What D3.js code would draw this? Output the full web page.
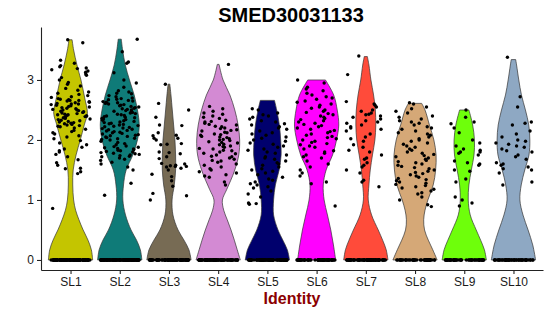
<!DOCTYPE html>
<html>
<head>
<meta charset="utf-8">
<script src="https://cdn.jsdelivr.net/npm/d3@7"></script>
<style>
  body { margin: 0; background: #fff; }
  svg { font-family: "Liberation Sans", Arial, sans-serif; }
</style>
</head>
<body>
<svg id="chart" width="550" height="316"></svg>
<script>
const categories = ["SL1", "SL2", "SL3", "SL4", "SL5", "SL6", "SL7", "SL8", "SL9", "SL10"];
const palette = ["#c4c500", "#0f7b78", "#776b54", "#d38ad3", "#00006d", "#ff00ff", "#ff4b3a", "#d5a877", "#6eff0b", "#8ea8c3"];
const yTicks = [0, 1, 2, 3];

// violin outline: [expression, relative width]
const violinProfiles = [
  [[0,1],[0.17,0.94],[0.33,0.79],[0.5,0.57],[0.67,0.38],[0.83,0.23],[1.0,0.14],[1.25,0.1],[1.5,0.12],[1.75,0.25],[2.0,0.44],[2.25,0.62],[2.45,0.76],[2.7,0.64],[3.0,0.47],[3.25,0.29],[3.5,0.14],[3.67,0.07]],
  [[0,1],[0.17,0.93],[0.33,0.76],[0.5,0.51],[0.75,0.26],[1.0,0.14],[1.25,0.17],[1.5,0.29],[1.75,0.59],[2.0,0.8],[2.25,0.88],[2.5,0.8],[2.75,0.65],[3.0,0.44],[3.25,0.25],[3.5,0.13],[3.68,0.07]],
  [[0,1],[0.17,0.9],[0.33,0.68],[0.5,0.41],[0.75,0.18],[1.0,0.14],[1.25,0.24],[1.5,0.3],[1.75,0.3],[2.0,0.27],[2.25,0.21],[2.5,0.15],[2.75,0.09],[2.93,0.04]],
  [[0,1],[0.17,0.86],[0.33,0.73],[0.5,0.58],[0.67,0.41],[0.83,0.25],[1.0,0.19],[1.17,0.38],[1.33,0.57],[1.5,0.75],[1.75,0.93],[2.0,0.97],[2.25,0.9],[2.5,0.75],[2.75,0.53],[3.0,0.22],[3.26,0.04]],
  [[0,1],[0.17,0.9],[0.33,0.7],[0.5,0.48],[0.75,0.28],[1.0,0.28],[1.25,0.36],[1.5,0.53],[1.75,0.62],[2.0,0.6],[2.25,0.54],[2.5,0.42],[2.66,0.32]],
  [[0,0.86],[0.25,0.76],[0.5,0.64],[0.75,0.49],[1.0,0.34],[1.25,0.3],[1.5,0.43],[1.75,0.72],[2.0,0.9],[2.25,1.0],[2.5,0.93],[2.75,0.77],[3.0,0.4]],
  [[0,1],[0.17,0.92],[0.33,0.76],[0.5,0.56],[0.75,0.26],[1.0,0.11],[1.25,0.14],[1.5,0.2],[1.75,0.3],[2.0,0.41],[2.25,0.45],[2.5,0.43],[2.75,0.35],[3.0,0.23],[3.25,0.14],[3.39,0.07]],
  [[0,1],[0.17,0.8],[0.33,0.6],[0.5,0.43],[0.67,0.39],[0.83,0.45],[1.0,0.58],[1.25,0.82],[1.5,0.93],[1.75,0.95],[2.0,0.85],[2.25,0.65],[2.5,0.45],[2.61,0.3]],
  [[0,1],[0.17,0.91],[0.33,0.74],[0.5,0.54],[0.75,0.27],[1.0,0.18],[1.25,0.21],[1.5,0.32],[1.75,0.44],[2.0,0.46],[2.25,0.38],[2.5,0.21]],
  [[0,1],[0.25,0.87],[0.5,0.66],[0.75,0.43],[1.0,0.29],[1.25,0.35],[1.5,0.51],[1.75,0.7],[2.0,0.74],[2.25,0.69],[2.5,0.54],[2.75,0.36],[3.0,0.24],[3.25,0.14],[3.34,0.1]]
];

// non-zero cell values per identity
const cellValues = [
  [3.67,3.62,3.33,3.28,3.24,3.22,3.2,3.19,3.17,3.15,3.13,3.1,3.08,3.04,3.0,2.96,2.93,2.9,2.86,2.83,2.8,2.78,2.76,2.74,2.72,2.71,2.69,2.68,2.67,2.66,2.66,2.65,2.64,2.63,2.62,2.61,2.6,2.6,2.59,2.58,2.57,2.56,2.55,2.54,2.53,2.52,2.51,2.5,2.5,2.49,2.48,2.47,2.46,2.45,2.44,2.43,2.42,2.42,2.41,2.4,2.4,2.39,2.38,2.37,2.36,2.35,2.34,2.33,2.32,2.31,2.3,2.29,2.28,2.27,2.26,2.25,2.24,2.23,2.22,2.2,2.18,2.16,2.14,2.12,2.1,2.07,2.05,2.02,1.99,1.95,1.92,1.88,1.85,1.82,1.8,1.76,1.72,1.67,1.62,1.58,1.53,1.52,1.47,1.44,0.86],
  [3.68,3.47,3.3,3.28,3.12,3.0,2.95,2.88,2.82,2.8,2.78,2.77,2.74,2.72,2.7,2.69,2.68,2.67,2.66,2.65,2.64,2.63,2.62,2.61,2.6,2.59,2.58,2.57,2.56,2.55,2.54,2.53,2.52,2.51,2.5,2.49,2.48,2.47,2.46,2.45,2.44,2.43,2.42,2.41,2.4,2.39,2.38,2.37,2.36,2.35,2.34,2.33,2.32,2.31,2.3,2.29,2.28,2.27,2.26,2.25,2.24,2.23,2.22,2.21,2.2,2.19,2.18,2.17,2.16,2.15,2.14,2.13,2.12,2.11,2.1,2.09,2.08,2.07,2.06,2.05,2.04,2.03,2.02,2.01,2.0,1.98,1.96,1.94,1.92,1.9,1.89,1.88,1.87,1.86,1.85,1.84,1.83,1.82,1.81,1.8,1.79,1.78,1.77,1.76,1.75,1.74,1.73,1.72,1.7,1.68,1.66,1.63,1.6,1.55,1.5,1.28,1.08],
  [2.93,2.61,2.5,2.38,2.25,2.24,2.12,2.08,2.07,2.03,2.03,2.0,1.94,1.93,1.92,1.8,1.79,1.77,1.72,1.69,1.61,1.6,1.58,1.57,1.56,1.56,1.55,1.53,1.5,1.43,1.39,1.32,1.23,1.11,1.07,1.0],
  [3.26,2.56,2.52,2.48,2.45,2.43,2.4,2.38,2.36,2.33,2.31,2.3,2.28,2.26,2.25,2.23,2.22,2.2,2.19,2.17,2.16,2.15,2.13,2.12,2.1,2.09,2.08,2.06,2.05,2.04,2.02,2.01,2.0,1.99,1.97,1.96,1.95,1.93,1.92,1.9,1.89,1.88,1.86,1.85,1.83,1.82,1.8,1.78,1.77,1.75,1.73,1.72,1.7,1.68,1.66,1.65,1.63,1.6,1.58,1.55,1.52,1.5,1.47,1.45,1.42,1.4,1.38,1.3,1.25],
  [2.52,2.5,2.45,2.42,2.4,2.38,2.35,2.32,2.3,2.27,2.25,2.22,2.2,2.18,2.15,2.12,2.1,2.08,2.05,2.03,2.0,1.98,1.95,1.93,1.9,1.88,1.85,1.83,1.8,1.78,1.75,1.72,1.7,1.68,1.65,1.62,1.6,1.58,1.55,1.52,1.5,1.48,1.45,1.42,1.38,1.35,1.33,1.3,1.27,1.25,1.22,1.2,1.15,1.1,1.05,0.95,0.94,0.93],
  [3.0,2.95,2.88,2.85,2.82,2.78,2.75,2.72,2.7,2.68,2.65,2.63,2.6,2.58,2.55,2.53,2.5,2.48,2.46,2.44,2.42,2.4,2.38,2.36,2.34,2.32,2.3,2.28,2.26,2.24,2.22,2.2,2.18,2.16,2.14,2.12,2.1,2.08,2.06,2.04,2.02,2.0,1.98,1.96,1.94,1.92,1.9,1.88,1.85,1.82,1.8,1.78,1.75,1.72,1.7,1.65,1.6,1.55,1.5,1.45,1.4,1.3,1.27,0.9],
  [3.4,3.09,2.64,2.6,2.58,2.55,2.5,2.48,2.45,2.43,2.42,2.4,2.38,2.35,2.32,2.3,2.28,2.25,2.22,2.2,2.18,2.15,2.1,2.05,2.02,1.98,1.92,1.88,1.83,1.8,1.75,1.7,1.68,1.62,1.58,1.55,1.5,1.45,1.33,1.3,1.22],
  [2.62,2.6,2.55,2.52,2.48,2.45,2.4,2.38,2.35,2.32,2.3,2.28,2.25,2.22,2.2,2.18,2.15,2.12,2.1,2.08,2.05,2.02,2.0,1.98,1.95,1.93,1.9,1.88,1.85,1.83,1.8,1.78,1.76,1.74,1.72,1.7,1.68,1.66,1.64,1.62,1.6,1.58,1.56,1.54,1.52,1.5,1.48,1.46,1.44,1.42,1.4,1.38,1.36,1.34,1.32,1.3,1.28,1.26,1.24,1.22,1.2,1.18,1.15,1.12,1.1,1.05,1.0,0.92,0.89],
  [2.5,2.38,2.3,2.27,2.2,2.12,2.0,1.95,1.9,1.85,1.83,1.8,1.8,1.78,1.75,1.65,1.62,1.6,1.58,1.5,1.48,1.35,1.3,1.05,1.0,0.95,0.9],
  [3.38,2.72,2.55,2.3,2.28,2.25,2.15,2.1,2.05,2.0,1.98,1.95,1.93,1.9,1.88,1.85,1.82,1.8,1.75,1.72,1.68,1.62,1.6,1.58,1.55,1.52,1.5,1.45,1.3,1.25]
];
// cells with zero expression per identity
const zeroCounts = [110, 110, 80, 80, 80, 60, 70, 45, 50, 50];

const svg = d3.select("#chart");
const panel = { left: 41, right: 543, top: 27, bottom: 270 };

const x = d3.scalePoint().domain(categories).range([panel.left, panel.right]).padding(0.6);
const y = d3.scaleLinear().domain([-0.167, 3.883]).range([panel.bottom, panel.top]);
const halfW = x.step() * 0.45;

// violins
const area = d3.area()
  .y((d) => y(d[0]))
  .curve(d3.curveCatmullRom.alpha(0.5));

svg.append("g")
  .selectAll("path")
  .data(violinProfiles)
  .join("path")
  .attr("d", (prof, i) => {
    const cx = x(categories[i]);
    return area.x0((d) => cx - d[1] * halfW).x1((d) => cx + d[1] * halfW)(prof);
  })
  .attr("fill", (d, i) => palette[i])
  .attr("stroke", "#333")
  .attr("stroke-width", 0.7);

// jittered cells (horizontal jitter only, like geom_jitter(height = 0))
const rng = d3.randomLcg(0.4217);
const jitter = () => (rng() * 2 - 1) * x.step() * 0.4;
const points = [];
categories.forEach((c, i) => {
  cellValues[i].forEach((v) => points.push({ c, v, dx: jitter() }));
  for (let k = 0; k < zeroCounts[i]; k++) points.push({ c, v: 0, dx: jitter() });
});

svg.append("g")
  .selectAll("circle")
  .data(points)
  .join("circle")
  .attr("cx", (d) => x(d.c) + d.dx)
  .attr("cy", (d) => y(d.v))
  .attr("r", 1.7)
  .attr("fill", "#000");

// axes
const yAxis = svg.append("g")
  .attr("transform", `translate(${panel.left},0)`)
  .call(d3.axisLeft(y).tickValues(yTicks).tickFormat(d3.format("d")).tickSize(4).tickSizeOuter(0).tickPadding(3));
const xAxis = svg.append("g")
  .attr("transform", `translate(0,${panel.bottom})`)
  .call(d3.axisBottom(x).tickSize(4).tickSizeOuter(0).tickPadding(3));

[yAxis, xAxis].forEach((g) => {
  g.select(".domain").attr("stroke", "#222").attr("stroke-width", 1.1);
  g.selectAll(".tick line").attr("stroke", "#222").attr("stroke-width", 1.1);
  g.selectAll(".tick text")
    .attr("fill", "#1a1a1a")
    .style("font-size", "12px")
    .style("font-family", "'Liberation Sans', Arial, sans-serif");
});

// title and axis title
svg.append("text")
  .attr("x", 291)
  .attr("y", 22)
  .attr("text-anchor", "middle")
  .style("font-size", "20px")
  .style("font-weight", "bold")
  .attr("fill", "#000")
  .text("SMED30031133");

svg.append("text")
  .attr("x", 292)
  .attr("y", 304)
  .attr("text-anchor", "middle")
  .style("font-size", "16px")
  .style("font-weight", "bold")
  .attr("fill", "#8b0000")
  .text("Identity");
</script>
</body>
</html>
